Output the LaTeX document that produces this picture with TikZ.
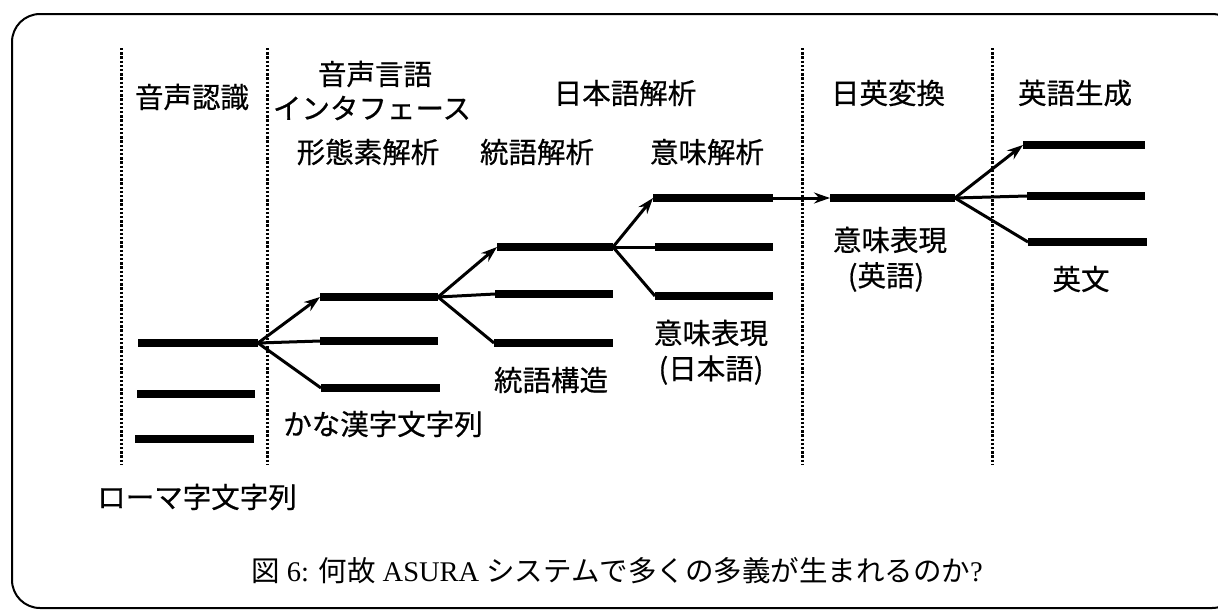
\documentclass[tikz,border=0pt]{standalone}
\usepackage{fontspec}
\newfontfamily\jp[FakeBold=0.6]{Noto Sans CJK JP}
\newfontfamily\jpcap{Noto Sans CJK JP}
\newfontfamily\capserif{Liberation Serif}
\usetikzlibrary{arrows.meta}
\tikzset{
  lbl/.style={font=\jp\fontsize{28.5}{36}\selectfont, inner sep=0pt, align=center},
  captext/.style={font=\capserif\fontsize{28.5}{34}\selectfont, inner sep=0pt},
  bar/.style={line width=8pt},
  conn/.style={line width=3pt},
  arr/.style={conn, -{Stealth[length=16pt,width=11pt]}},
  sep/.style={line width=3pt, dash pattern=on 2.4pt off 1.8pt},
}
\begin{document}
\begin{tikzpicture}[x=1pt,y=-1pt]
\useasboundingbox (0,0) rectangle (1218,611);
\draw[line width=2pt, rounded corners=28pt] (12,14) rectangle (1240,608);
% separators
\foreach \x in {121,267,802,992}{\draw[sep] (\x,48) -- (\x,465);}
% headings
\node[lbl] (h1) at (192,97) {音声認識};
\node[lbl] (h2a) at (375,74) {音声言語};
\node[lbl] (h2b) at (372,108) {インタフェース};
\node[lbl] (h2c) at (368,152) {形態素解析};
\node[lbl] (h3) at (625,93) {日本語解析};
\node[lbl] (h3a) at (537,152) {統語解析};
\node[lbl] (h3b) at (707,152) {意味解析};
\node[lbl] (h4) at (888,93) {日英変換};
\node[lbl] (h5) at (1075,93) {英語生成};
% bar endpoints
\coordinate (a1s) at (138,343); \coordinate (a1e) at (258,343);
\coordinate (a2s) at (137,394); \coordinate (a2e) at (255,394);
\coordinate (a3s) at (135,439); \coordinate (a3e) at (254,439);
\coordinate (b1s) at (320,297); \coordinate (b1e) at (438,297);
\coordinate (b2s) at (320,341); \coordinate (b2e) at (438,341);
\coordinate (b3s) at (321,388); \coordinate (b3e) at (440,388);
\coordinate (c1s) at (497,247); \coordinate (c1e) at (613,247);
\coordinate (c2s) at (495,294); \coordinate (c2e) at (613,294);
\coordinate (c3s) at (494,343); \coordinate (c3e) at (613,343);
\coordinate (d1s) at (653,198); \coordinate (d1e) at (773,198);
\coordinate (d2s) at (655,247); \coordinate (d2e) at (773,247);
\coordinate (d3s) at (655,296); \coordinate (d3e) at (773,296);
\coordinate (e1s) at (830,198); \coordinate (e1e) at (955,198);
\coordinate (f1s) at (1023,145); \coordinate (f1e) at (1145,145);
\coordinate (f2s) at (1027,196); \coordinate (f2e) at (1145,196);
\coordinate (f3s) at (1028,242); \coordinate (f3e) at (1147,242);
% bars
\foreach \b in {a1,a2,a3,b1,b2,b3,c1,c2,c3,d1,d2,d3,e1,f1,f2,f3}{\draw[bar] (\b s) -- (\b e);}
% connectors
\draw[arr] (a1e) -- (b1s); \draw[conn] (a1e) -- (b2s); \draw[conn] (a1e) -- (b3s);
\draw[arr] (b1e) -- (c1s); \draw[conn] (b1e) -- (c2s); \draw[conn] (b1e) -- (c3s);
\draw[arr] (c1e) -- (d1s); \draw[conn] (c1e) -- (d2s); \draw[conn] (c1e) -- (d3s);
\draw[arr] (d1e) -- (e1s);
\draw[arr] (e1e) -- (f1s); \draw[conn] (e1e) -- (f2s); \draw[conn] (e1e) -- (f3s);
% data labels
\node[lbl] (l1) at (197,497) {ローマ字文字列};
\node[lbl] (l2) at (383,424) {かな漢字文字列};
\node[lbl] (l3) at (551,380) {統語構造};
\node[lbl] (l4a) at (711,333) {意味表現};
\node[lbl] (l4b) at (711,370) {(日本語)};
\node[lbl] (l5a) at (890,240) {意味表現};
\node[lbl] (l5b) at (886,277) {(英語)};
\node[lbl] (l6) at (1081,279) {英文};
% caption
\node[captext] (caption) at (617,571) {{\jpcap 図} 6: {\jpcap 何故} ASURA {\jpcap システムで多くの多義が生まれるのか}?};
\end{tikzpicture}
\end{document}
